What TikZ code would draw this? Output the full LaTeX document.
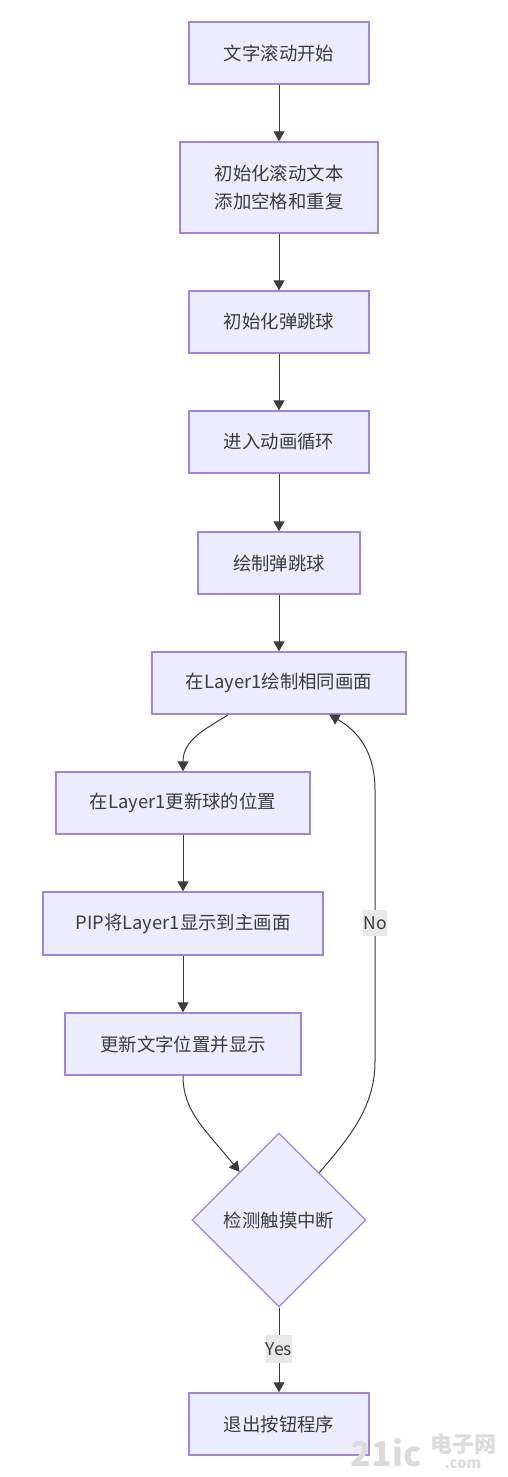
\documentclass[tikz,border=0pt]{standalone}
\usepackage{fontspec}
\setmainfont{Noto Sans CJK SC}
\usetikzlibrary{arrows.meta,shapes.geometric,calc}
\definecolor{nodefill}{HTML}{ECECFF}
\definecolor{nodeline}{HTML}{A283E0}
\definecolor{ink}{HTML}{3C3C3C}
\definecolor{labelbg}{HTML}{E8E8E8}
\tikzset{
  x=1pt,y=-1pt,
  every node/.style={font=\fontsize{18.4}{28}\selectfont,text=ink,inner sep=0pt},
  stepbox/.style={rectangle,draw=nodeline,fill=nodefill,line width=1.4pt,align=center},
  choice/.style={diamond,aspect=1,draw=nodeline,fill=nodefill,line width=1.2pt,minimum width=174pt,minimum height=174pt},
  flow/.style={draw=ink,line width=1pt,-{Triangle[length=10pt,width=11pt]}},
  edgelabel/.style={fill=labelbg,font=\fontsize{17.5}{20}\selectfont},
  mark text/.style={text=gray!28},
}
\begin{document}
\begin{tikzpicture}
\useasboundingbox (0,0) rectangle (507,1477);
\node[stepbox,minimum width=180pt,minimum height=62pt] (n1) at (279,53) {文字滚动开始};
\node[stepbox,minimum width=198pt,minimum height=91pt] (n2) at (279,187.5) {初始化滚动文本\\添加空格和重复};
\node[stepbox,minimum width=180pt,minimum height=62pt] (n3) at (279,322) {初始化弹跳球};
\node[stepbox,minimum width=180pt,minimum height=62pt] (n4) at (279,442) {进入动画循环};
\node[stepbox,minimum width=162pt,minimum height=62pt] (n5) at (279,563) {绘制弹跳球};
\node[stepbox,minimum width=254pt,minimum height=62pt] (n6) at (279,683) {在Layer1绘制相同画面};
\node[stepbox,minimum width=254pt,minimum height=62pt] (n7) at (183,803) {在Layer1更新球的位置};
\node[stepbox,minimum width=280pt,minimum height=63pt] (n8) at (183,923.5) {PIP将Layer1显示到主画面};
\node[stepbox,minimum width=236pt,minimum height=62pt] (n9) at (183,1044) {更新文字位置并显示};
\node[choice] (d) at (279,1220) {检测触摸中断};
\node[stepbox,minimum width=180pt,minimum height=62pt] (n10) at (279,1424) {退出按钮程序};
\draw[flow] (n1) -- (n2);
\draw[flow] (n2) -- (n3);
\draw[flow] (n3) -- (n4);
\draw[flow] (n4) -- (n5);
\draw[flow] (n5) -- (n6);
\draw[flow] ($(n6.south west)+(77,0)$) .. controls +(-22,14) and +(0,-32) .. (n7.north);
\draw[flow] (n7) -- (n8);
\draw[flow] (n8.south -| n9) -- (n9);
\draw[flow] (n9.south) .. controls +(0,36) and +(-34,-42) .. ($(d.north)!0.45!(d.west)$);
\draw[flow] ($(d.north)!0.46!(d.east)$) .. controls (345,1142) and (375,1110) .. (375,1062)
  -- (375,790) .. controls (375,752) and (358,731) .. ($(n6.south west)+(178,0)$);
\node[edgelabel,minimum width=22pt,minimum height=26pt] (no) at (375,923) {No};
\draw[flow] (d.south) -- (n10.north);
\node[edgelabel,minimum width=26pt,minimum height=28pt] (yes) at (279,1349) {Yes};
\node[mark text,font=\fontsize{34}{34}\selectfont\bfseries] (wm1) at (386,1453) {21ic};
\node[mark text,font=\fontsize{22}{22}\selectfont\bfseries] (wm2) at (463,1444) {电子网};
\node[mark text,font=\fontsize{15}{15}\selectfont\bfseries] (wm3) at (463,1464) {.com};
\end{tikzpicture}
\end{document}
